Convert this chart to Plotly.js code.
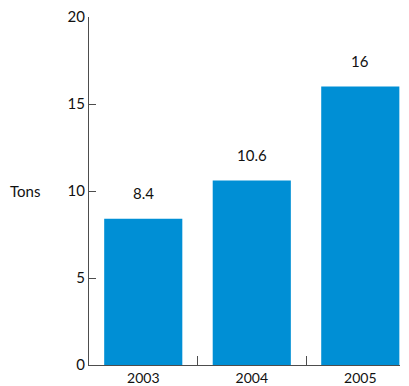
<!DOCTYPE html>
<html>
<head>
<meta charset="utf-8">
<script src="https://cdn.plot.ly/plotly-3.0.1.min.js"></script>
<style>
  html, body { margin: 0; padding: 0; background: #fff; }
  #chart { width: 409px; height: 386px; }
</style>
</head>
<body>
<div id="chart"></div>
<script>
// Annual tonnage, 2003–2005
const years = ['2003', '2004', '2005'];
const tons = [8.4, 10.6, 16];
const yTicks = [0, 5, 10, 15, 20];

const FONT = 'Lato, "Open Sans", sans-serif';
const BAR_COLOR = '#008fd5';
const AXIS_COLOR = '#4d4d4d';

const trace = {
  type: 'bar',
  x: years,
  y: tons,
  width: 0.72,
  marker: { color: BAR_COLOR },
  hoverinfo: 'skip'
};

// value labels float above each bar (category index as x position)
const valueLabels = years.map((yr, i) => ({
  x: i,
  y: tons[i],
  xref: 'x',
  yref: 'y',
  text: String(tons[i]),
  showarrow: false,
  yanchor: 'bottom',
  yshift: 15,
  font: { family: FONT, size: 15, color: '#111' }
}));

const layout = {
  width: 409,
  height: 386,
  margin: { l: 89, r: 9, t: 17, b: 21, pad: 0 },
  paper_bgcolor: '#fff',
  plot_bgcolor: '#fff',
  showlegend: false,
  font: { family: FONT, size: 15, color: '#111' },
  xaxis: {
    type: 'category',
    range: [-0.5, 2.366],
    showline: true,
    linecolor: AXIS_COLOR,
    linewidth: 1,
    ticks: 'inside',
    tickson: 'boundaries',
    ticklen: 9,
    tickcolor: AXIS_COLOR,
    tickfont: { family: FONT, size: 14, color: '#111' },
    showgrid: false,
    zeroline: false,
    automargin: false,
    fixedrange: true
  },
  yaxis: {
    range: [0, 20],
    tickvals: yTicks,
    ticktext: yTicks.map(String),
    showline: true,
    linecolor: AXIS_COLOR,
    linewidth: 1,
    ticks: 'inside',
    ticklen: 7,
    tickwidth: 1,
    tickcolor: AXIS_COLOR,
    showgrid: false,
    zeroline: false,
    automargin: false,
    fixedrange: true
  },
  annotations: [
    {
      text: 'Tons',
      xref: 'paper', yref: 'y',
      x: -0.206, y: 10,
      xanchor: 'center', yanchor: 'middle',
      showarrow: false,
      font: { family: FONT, size: 15, color: '#111' }
    },
    ...valueLabels
  ]
};

Plotly.newPlot('chart', [trace], layout, { displayModeBar: false, staticPlot: true });
</script>
</body>
</html>
